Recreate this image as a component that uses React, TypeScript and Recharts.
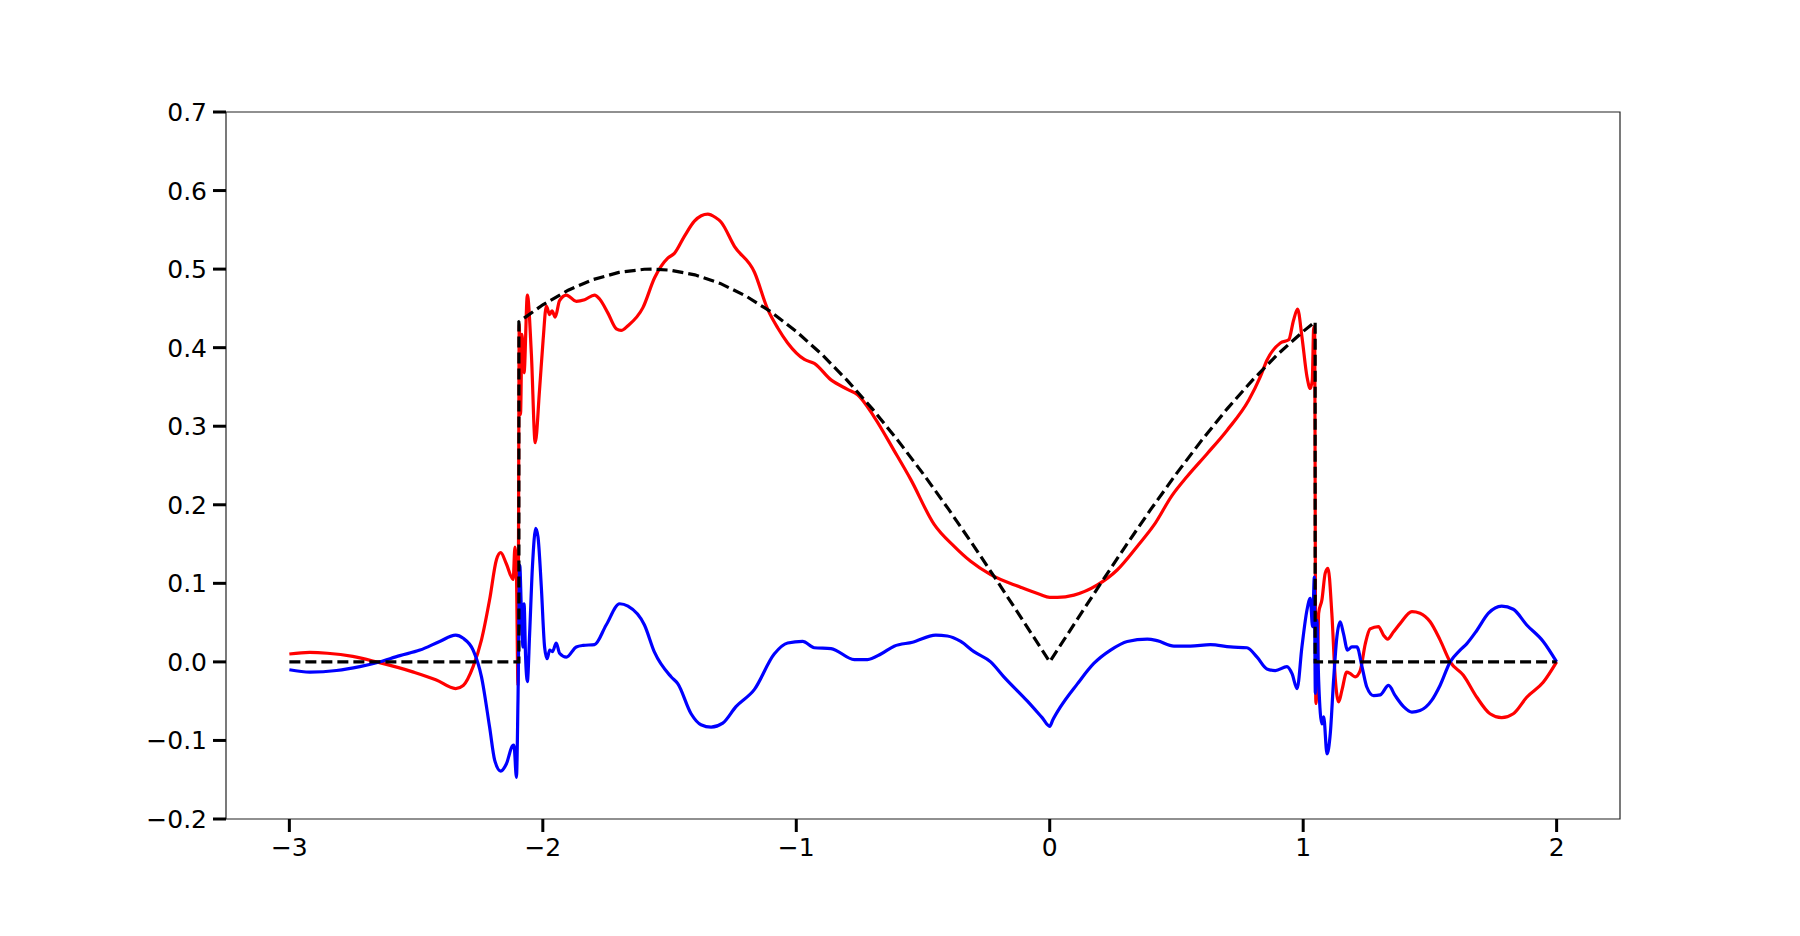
import React from 'react';
import { LineChart, Line, XAxis, YAxis, ReferenceArea } from 'recharts';

// Black dashed reference curve
const exactX = [-3.0, -2.0944, -2.0944, -2.0, -1.9, -1.8, -1.7, -1.6, -1.5708, -1.5, -1.4, -1.3, -1.2, -1.1, -1.0, -0.9, -0.8, -0.7, -0.6, -0.5, -0.4, -0.3, -0.2, -0.1, 0.0, 0.1, 0.2, 0.3, 0.4, 0.5, 0.6, 0.7, 0.8, 0.9, 1.0, 1.0472, 1.0472, 2.0];
const exactY = [0, 0, 0.433, 0.4546, 0.4732, 0.4869, 0.4958, 0.4998, 0.5, 0.4987, 0.4927, 0.4818, 0.466, 0.4456, 0.4207, 0.3917, 0.3587, 0.3221, 0.2823, 0.2397, 0.1947, 0.1478, 0.0993, 0.0499, 0, 0.0499, 0.0993, 0.1478, 0.1947, 0.2397, 0.2823, 0.3221, 0.3587, 0.3917, 0.4207, 0.433, 0, 0];

// Red series
const redX = [-3.0, -2.92, -2.85, -2.75, -2.656, -2.51, -2.42, -2.344, -2.314, -2.275, -2.242, -2.21, -2.183, -2.166, -2.144, -2.117, -2.11, -2.104, -2.098, -2.093, -2.088, -2.082, -2.074, -2.061, -2.045, -2.03, -2.013, -1.999, -1.986, -1.973, -1.964, -1.951, -1.934, -1.907, -1.868, -1.835, -1.796, -1.776, -1.743, -1.71, -1.691, -1.664, -1.605, -1.559, -1.507, -1.481, -1.441, -1.402, -1.375, -1.349, -1.32, -1.297, -1.244, -1.165, -1.113, -1.073, -1.034, -0.968, -0.929, -0.863, -0.798, -0.758, -0.693, -0.614, -0.548, -0.456, -0.377, -0.312, -0.233, -0.115, -0.04, 0.0, 0.03, 0.0955, 0.188, 0.266, 0.345, 0.411, 0.483, 0.542, 0.621, 0.7, 0.785, 0.831, 0.857, 0.91, 0.943, 0.962, 0.978, 0.995, 1.015, 1.028, 1.036, 1.041, 1.045, 1.05, 1.057, 1.061, 1.074, 1.087, 1.098, 1.113, 1.127, 1.14, 1.153, 1.172, 1.186, 1.205, 1.225, 1.245, 1.264, 1.297, 1.317, 1.333, 1.356, 1.383, 1.429, 1.461, 1.501, 1.54, 1.58, 1.632, 1.685, 1.737, 1.783, 1.829, 1.882, 1.947, 2.0];
const redY = [0.01, 0.012, 0.011, 0.007, 0.0, -0.013, -0.023, -0.034, -0.03, -0.006, 0.028, 0.079, 0.13, 0.139, 0.125, 0.105, 0.146, 0.11, -0.03, 0.43, 0.315, 0.417, 0.368, 0.467, 0.391, 0.279, 0.346, 0.409, 0.453, 0.442, 0.447, 0.439, 0.46, 0.467, 0.459, 0.461, 0.467, 0.462, 0.444, 0.424, 0.422, 0.428, 0.451, 0.489, 0.514, 0.52, 0.542, 0.561, 0.568, 0.57, 0.566, 0.56, 0.529, 0.496, 0.449, 0.425, 0.406, 0.385, 0.38, 0.359, 0.347, 0.34, 0.312, 0.269, 0.232, 0.175, 0.147, 0.128, 0.111, 0.095, 0.086, 0.082, 0.082, 0.085, 0.098, 0.117, 0.147, 0.174, 0.212, 0.236, 0.265, 0.295, 0.333, 0.363, 0.384, 0.406, 0.41, 0.435, 0.449, 0.414, 0.363, 0.348, 0.359, 0.423, 0.427, -0.053, -0.002, 0.062, 0.079, 0.113, 0.119, 0.062, -0.023, -0.051, -0.036, -0.013, -0.015, -0.019, -0.011, 0.023, 0.042, 0.045, 0.034, 0.029, 0.038, 0.049, 0.064, 0.062, 0.051, 0.028, 0.0, -0.017, -0.045, -0.066, -0.071, -0.066, -0.045, -0.026, 0.0];

// Blue series
const blueX = [-3.0, -2.919, -2.814, -2.722, -2.656, -2.564, -2.485, -2.407, -2.344, -2.314, -2.275, -2.242, -2.21, -2.19, -2.166, -2.144, -2.12, -2.114, -2.104, -2.098, -2.091, -2.085, -2.078, -2.074, -2.068, -2.061, -2.052, -2.041, -2.028, -2.019, -2.006, -1.993, -1.983, -1.973, -1.962, -1.947, -1.934, -1.907, -1.868, -1.841, -1.796, -1.75, -1.697, -1.664, -1.599, -1.559, -1.494, -1.467, -1.415, -1.376, -1.336, -1.29, -1.238, -1.165, -1.087, -1.034, -0.975, -0.929, -0.863, -0.771, -0.719, -0.666, -0.614, -0.541, -0.45, -0.404, -0.351, -0.299, -0.233, -0.181, -0.088, -0.03, 0.0, 0.012, 0.043, 0.109, 0.174, 0.24, 0.306, 0.385, 0.424, 0.49, 0.555, 0.634, 0.713, 0.778, 0.818, 0.857, 0.89, 0.936, 0.956, 0.976, 0.995, 1.015, 1.028, 1.037, 1.044, 1.048, 1.054, 1.061, 1.074, 1.081, 1.094, 1.107, 1.12, 1.133, 1.146, 1.159, 1.175, 1.192, 1.212, 1.232, 1.251, 1.278, 1.304, 1.337, 1.363, 1.396, 1.429, 1.461, 1.507, 1.54, 1.58, 1.619, 1.645, 1.685, 1.731, 1.783, 1.829, 1.882, 1.947, 2.0];
const blueY = [-0.01, -0.013, -0.011, -0.006, -0.001, 0.008, 0.015, 0.026, 0.034, 0.03, 0.015, -0.019, -0.083, -0.125, -0.139, -0.13, -0.107, -0.106, -0.147, -0.049, 0.123, 0.07, 0.019, 0.074, 0.006, -0.025, 0.036, 0.121, 0.17, 0.159, 0.096, 0.019, 0.004, 0.015, 0.013, 0.024, 0.011, 0.006, 0.019, 0.021, 0.022, 0.047, 0.074, 0.071, 0.047, 0.012, -0.019, -0.028, -0.066, -0.08, -0.083, -0.078, -0.057, -0.035, 0.01, 0.024, 0.026, 0.018, 0.017, 0.003, 0.003, 0.01, 0.02, 0.025, 0.034, 0.033, 0.026, 0.013, 0.0, -0.019, -0.05, -0.071, -0.082, -0.074, -0.057, -0.028, -0.002, 0.015, 0.026, 0.029, 0.027, 0.02, 0.02, 0.022, 0.019, 0.018, 0.006, -0.009, -0.011, -0.006, -0.015, -0.034, 0.019, 0.066, 0.081, 0.045, 0.108, -0.04, 0.053, -0.023, -0.079, -0.07, -0.117, -0.091, -0.023, 0.032, 0.051, 0.036, 0.015, 0.019, 0.019, -0.006, -0.032, -0.043, -0.042, -0.03, -0.043, -0.057, -0.064, -0.062, -0.049, -0.03, 0.0, 0.015, 0.023, 0.04, 0.062, 0.071, 0.067, 0.047, 0.026, 0.0];

// Axis ticks
const xTicks = [-3, -2, -1, 0, 1, 2];
const yTicks = [-0.2, -0.1, 0.0, 0.1, 0.2, 0.3, 0.4, 0.5, 0.6, 0.7];

const exactData = exactX.map((x, i) => ({ x, y: exactY[i] }));
const redData = redX.map((x, i) => ({ x, y: redY[i] }));
const blueData = blueX.map((x, i) => ({ x, y: blueY[i] }));

const minus = (s: string) => s.replace('-', '\u2212');
const FONT = "'DejaVu Sans', sans-serif";

const XTick = (props: any) => {
  const { x, y, payload } = props;
  return (
    <text x={x} y={y} dy={19} textAnchor="middle" fontSize={25} fontFamily={FONT} fill="#000">
      {minus(String(payload.value))}
    </text>
  );
};

const YTick = (props: any) => {
  const { x, y, payload } = props;
  return (
    <text x={x} y={y} dy={9} textAnchor="end" fontSize={25} fontFamily={FONT} fill="#000">
      {minus(Number(payload.value).toFixed(1))}
    </text>
  );
};

export default function App() {
  return (
    <div style={{ position: 'absolute', left: 0, top: 0, background: '#fff' }}>
      <LineChart width={1800} height={936} margin={{ top: 112, right: 180, bottom: 77, left: 146 }}>
        <XAxis
          type="number"
          dataKey="x"
          domain={[-3.25, 2.25]}
          ticks={xTicks}
          allowDataOverflow
          height={40}
          axisLine={false}
          tickSize={13}
          tickMargin={5}
          tickLine={{ stroke: '#000', strokeWidth: 3 }}
          tick={<XTick />}
        />
        <YAxis
          type="number"
          domain={[-0.2, 0.7]}
          ticks={yTicks}
          allowDataOverflow
          width={80}
          axisLine={false}
          tickSize={13}
          tickMargin={6}
          tickLine={{ stroke: '#000', strokeWidth: 3 }}
          tick={<YTick />}
        />
        <ReferenceArea x1={-3.25} x2={2.25} y1={-0.2} y2={0.7} fill="none" stroke="#222" strokeWidth={1.2} ifOverflow="visible" />
        <Line data={redData} dataKey="y" type="monotoneX" stroke="#ff0000" strokeWidth={3.2} dot={false} isAnimationActive={false} />
        <Line data={blueData} dataKey="y" type="monotoneX" stroke="#0000ff" strokeWidth={3.2} dot={false} isAnimationActive={false} />
        <Line data={exactData} dataKey="y" type="linear" stroke="#000000" strokeWidth={3.2} strokeDasharray="11 5" dot={false} isAnimationActive={false} />
      </LineChart>
    </div>
  );
}
